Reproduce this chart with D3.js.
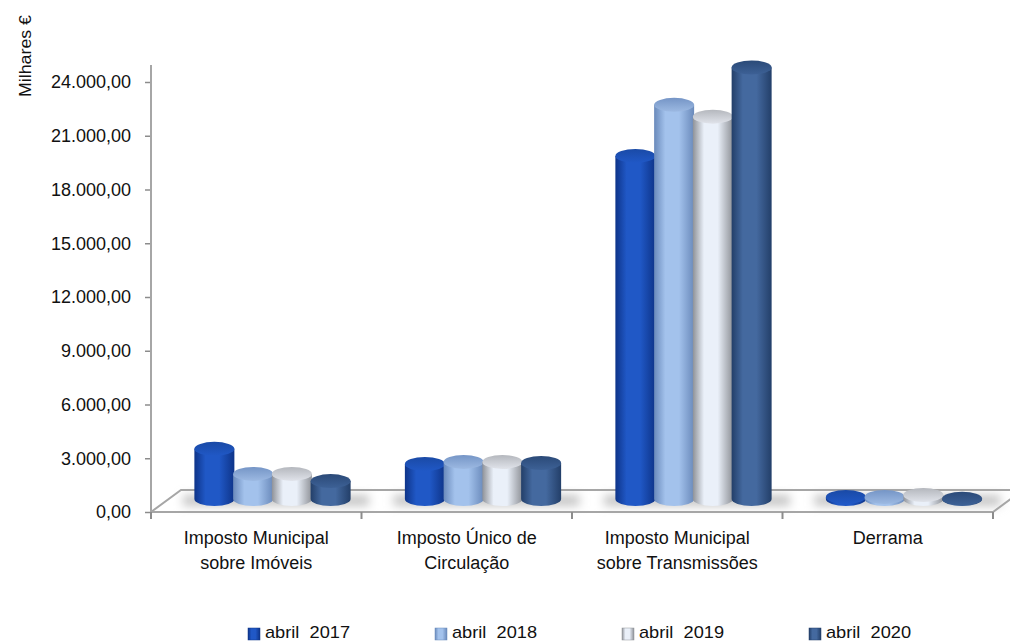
<!DOCTYPE html>
<html>
<head>
<meta charset="utf-8">
<script src="https://cdn.jsdelivr.net/npm/d3@7"></script>
<style>
  html, body { margin: 0; padding: 0; background: #fff; }
  text { font-family: "Liberation Sans", Arial, sans-serif; fill: #111; }
</style>
</head>
<body>
<script>
// Chart data
const categories = ["Imposto Municipal sobre Imóveis", "Imposto Único de Circulação", "Imposto Municipal sobre Transmissões", "Derrama"];
const categoryLines = [["Imposto Municipal", "sobre Imóveis"], ["Imposto Único de", "Circulação"], ["Imposto Municipal", "sobre Transmissões"], ["Derrama"]];
const seriesNames = ["abril  2017", "abril  2018", "abril  2019", "abril  2020"];
const values2017 = [2800, 1950, 19150, 110];
const values2018 = [1400, 2070, 22000, 110];
const values2019 = [1400, 2070, 21340, 220];
const values2020 = [1000, 2010, 24080, 20];
const yTicks = [0, 3000, 6000, 9000, 12000, 15000, 18000, 21000, 24000];

const allValues = [values2017, values2018, values2019, values2020];

// Colours per series: edge, middle, lid back, lid front
const edgeColors = ["#0e3489", "#6a8abb", "#8f9298", "#233f69"];
const midColors = ["#2058c6", "#a3c2ec", "#eaf0f9", "#44699f"];
const lidBack = ["#1a4aa6", "#7595c6", "#b4b7bd", "#2b4a78"];
const lidFront = ["#2058c6", "#9cb9e2", "#e0e3ea", "#3d6196"];

const width = 1010, height = 642;
const margin = { top: 65, bottom: 130, left: 151, right: 17 };
const depthX = 30, depthY = 22;   // floor depth
const floorOffset = 13;           // bars stand in the middle of the floor
const barWidth = 40, lidRy = 7;

const svg = d3.select("body").append("svg")
    .attr("width", width)
    .attr("height", height);

const defs = svg.append("defs");

seriesNames.forEach((s, i) => {
    const body = defs.append("linearGradient").attr("id", "body" + i);
    body.append("stop").attr("offset", "0%").attr("stop-color", edgeColors[i]);
    body.append("stop").attr("offset", "28%").attr("stop-color", midColors[i]);
    body.append("stop").attr("offset", "62%").attr("stop-color", midColors[i]);
    body.append("stop").attr("offset", "100%").attr("stop-color", edgeColors[i]);

    const lid = defs.append("linearGradient").attr("id", "lid" + i)
        .attr("x1", 0).attr("x2", 0).attr("y1", 0).attr("y2", 1);
    lid.append("stop").attr("offset", "0%").attr("stop-color", lidBack[i]);
    lid.append("stop").attr("offset", "100%").attr("stop-color", lidFront[i]);
});

defs.append("filter").attr("id", "shadowBlur")
    .attr("x", "-30%").attr("width", "160%").attr("y", "-150%").attr("height", "400%")
    .append("feGaussianBlur").attr("stdDeviation", 5);

// Scales
const x0 = d3.scaleBand()
    .domain(categories)
    .range([margin.left, width - margin.right]);

const x1 = d3.scaleBand()
    .domain(seriesNames)
    .range([44, 199]);

const y = d3.scaleLinear()
    .domain([0, 24000])
    .range([height - margin.bottom, 82]);

const base = y(0);
const fmt = d3.formatLocale({ decimal: ",", thousands: ".", grouping: [3], currency: ["", "€"] }).format(",.2f");

// Shadows under each group
svg.selectAll("rect.shadow")
    .data(categories)
    .enter()
    .append("rect")
    .attr("class", "shadow")
    .attr("x", d => x0(d) + 32)
    .attr("y", base - 17)
    .attr("width", 186)
    .attr("height", 11)
    .attr("fill", "#c6c6c6")
    .attr("filter", "url(#shadowBlur)");

// Floor
const floorRight = width - margin.right;
svg.append("path")
    .attr("d", `M${margin.left},${base}L${margin.left + depthX},${base - depthY}H${floorRight + depthX}`)
    .attr("fill", "none").attr("stroke", "#a6a6a6").attr("stroke-width", 2);
svg.append("path")
    .attr("d", `M${margin.left},${base}H${floorRight}L${floorRight + depthX},${base - depthY}`)
    .attr("fill", "none").attr("stroke", "#a6a6a6").attr("stroke-width", 2);

// Y axis
const yAxis = svg.append("g")
    .attr("transform", `translate(${margin.left},0)`)
    .call(d3.axisLeft(y).tickValues(yTicks).tickFormat(fmt).tickSize(6).tickPadding(14));
yAxis.select(".domain").remove();
yAxis.selectAll("line").attr("stroke", "#8c8c8c").attr("stroke-width", 1.5);
yAxis.selectAll("text").attr("font-size", 18).attr("fill", "#111");
yAxis.append("line")
    .attr("y1", margin.top).attr("y2", base + 7)
    .attr("stroke", "#a6a6a6").attr("stroke-width", 2);

// X axis ticks on the band edges
const edges = categories.map(d => x0(d)).concat(x0.range()[1]);
svg.selectAll("line.xtick")
    .data(edges)
    .enter()
    .append("line")
    .attr("class", "xtick")
    .attr("x1", d => d).attr("x2", d => d)
    .attr("y1", base).attr("y2", base + 7)
    .attr("stroke", "#8c8c8c").attr("stroke-width", 2);

// Category labels
categories.forEach((c, i) => {
    categoryLines[i].forEach((line, j) => {
        svg.append("text")
            .attr("x", x0(c) + x0.bandwidth() / 2)
            .attr("y", 544 + j * 25)
            .attr("text-anchor", "middle")
            .attr("font-size", 18)
            .text(line);
    });
});

// Cylinders
seriesNames.forEach((s, i) => {
    const g = svg.append("g");
    categories.forEach((c, k) => {
        const left = x0(c) + x1(s);
        const cx = left + x1.step() / 2;
        const rx = barWidth / 2;
        const bottom = base - floorOffset;
        const top = y(allValues[i][k]) - floorOffset;

        g.append("path")
            .attr("d", `M${cx - rx},${top}V${bottom}A${rx},${lidRy} 0 0 0 ${cx + rx},${bottom}V${top}Z`)
            .attr("fill", `url(#body${i})`);

        g.append("ellipse")
            .attr("cx", cx).attr("cy", top)
            .attr("rx", rx).attr("ry", lidRy)
            .attr("fill", `url(#lid${i})`);
    });
});

// Y axis title
svg.append("text")
    .attr("transform", "translate(31,97) rotate(-90)")
    .attr("font-size", 16)
    .attr("textLength", 82)
    .attr("lengthAdjust", "spacingAndGlyphs")
    .text("Milhares €");

// Legend
const legendX = d3.scalePoint()
    .domain(seriesNames)
    .range([248, 809]);

seriesNames.forEach((s, i) => {
    svg.append("rect")
        .attr("x", legendX(s)).attr("y", 628)
        .attr("width", 12).attr("height", 12)
        .attr("fill", `url(#body${i})`)
        .attr("stroke", edgeColors[i]).attr("stroke-width", 0.5);
    svg.append("text")
        .attr("x", legendX(s) + 17)
        .attr("y", 638)
        .attr("font-size", 17)
        .attr("textLength", 85)
        .attr("lengthAdjust", "spacingAndGlyphs")
        .style("white-space", "pre")
        .text(s);
});
</script>
</body>
</html>
